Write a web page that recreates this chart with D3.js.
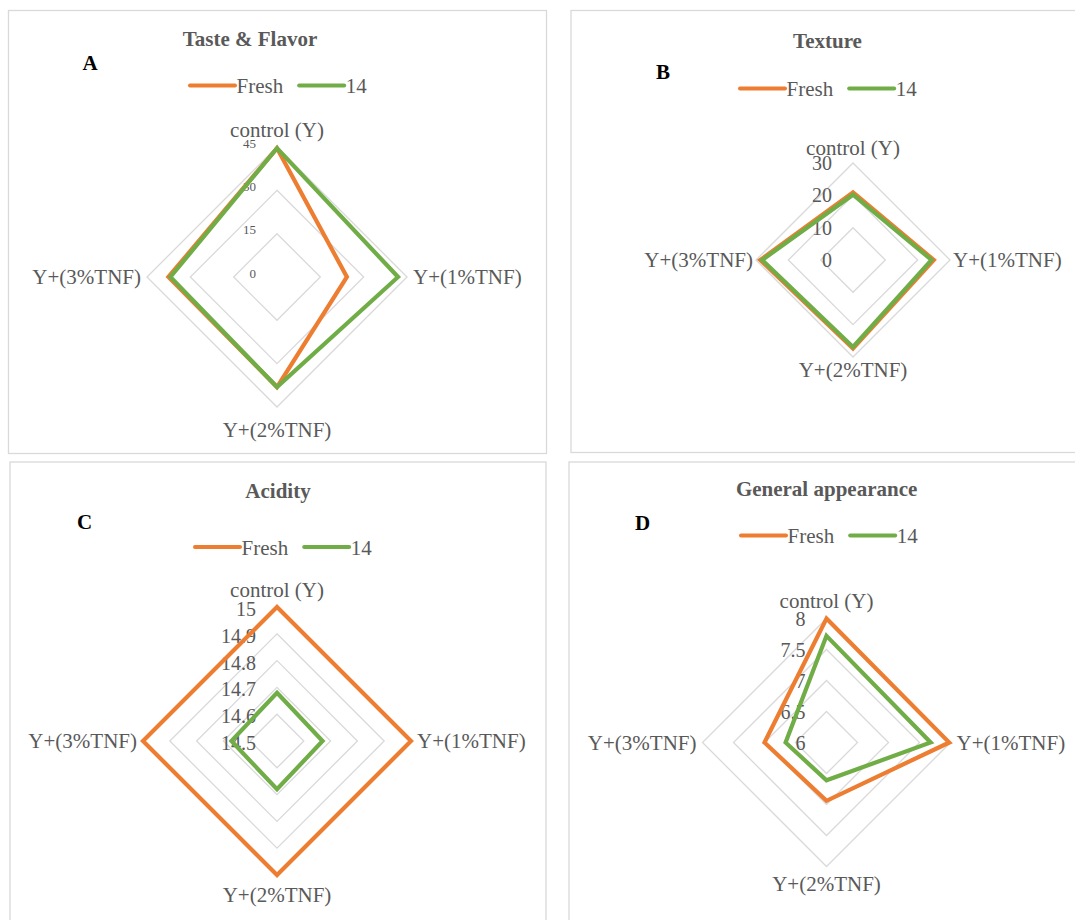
<!DOCTYPE html>
<html>
<head>
<meta charset="utf-8">
<script src="https://cdn.jsdelivr.net/npm/d3@7"></script>
<style>
  html, body { margin: 0; padding: 0; background: #fff; }
  svg { display: block; }
</style>
</head>
<body>
<svg id="chart" width="1075" height="920"></svg>
<script>
// Sensory attributes of the samples, fresh and after 14 days
const categories = ["control (Y)", "Y+(1%TNF)", "Y+(2%TNF)", "Y+(3%TNF)"];
const seriesNames = ["Fresh", "14"];

const tasteFresh = [44.6, 24.2, 38.1, 37.6];
const taste14    = [44.6, 41.9, 38.1, 36.9];
const tasteTicks = [0, 15, 30, 45];

const textureFresh = [20.9, 25.0, 27.4, 28.7];
const texture14    = [20.2, 24.3, 26.9, 28.1];
const textureTicks = [0, 10, 20, 30];

const acidityFresh = [15, 15, 15, 15];
const acidity14    = [14.68, 14.67, 14.68, 14.67];
const acidityTicks = [14.5, 14.6, 14.7, 14.8, 14.9, 15];

const appearanceFresh = [8.0, 7.98, 6.94, 7.0];
const appearance14    = [7.72, 7.68, 6.61, 6.66];
const appearanceTicks = [6, 6.5, 7, 7.5, 8];

const colors = ["#ED7D31", "#70AD47"];
const textGray = "#595959";
const gridGray = "#D9D9D9";
const serif = "'Liberation Serif', 'Times New Roman', Times, serif";

// Panel layout: frame, radar centre/radius, heading and legend placement
const panels = [
  { title: "Taste & Flavor", letter: "A", series: [tasteFresh, taste14], ticks: tasteTicks,
    frame: [8.5, 10.5, 538, 443], cx: 277, cy: 277, R: 130, tickSize: 13, tickDy: -4,
    titleX: 250, titleY: 46, letterX: 82.5, letterY: 70, legendX: 190, legendY: 85.5,
    pad: { top: 10, side: 6, bottom: 30 } },
  { title: "Texture", letter: "B", series: [textureFresh, texture14], ticks: textureTicks,
    frame: [571, 10.5, 620, 442], cx: 853, cy: 260, R: 97, tickSize: 20, tickDy: 0,
    titleX: 827.5, titleY: 48, letterX: 656, letterY: 79, legendX: 740, legendY: 88.5,
    pad: { top: 8, side: 3, bottom: 20 } },
  { title: "Acidity", letter: "C", series: [acidityFresh, acidity14], ticks: acidityTicks,
    frame: [10, 462, 536, 500], cx: 277, cy: 741, R: 134, tickSize: 20, tickDy: 2,
    titleX: 278, titleY: 498, letterX: 77, letterY: 529, legendX: 195, legendY: 547,
    pad: { top: 10, side: 6, bottom: 27 } },
  { title: "General appearance", letter: "D", series: [appearanceFresh, appearance14], ticks: appearanceTicks,
    frame: [569, 462, 620, 500], cx: 826.5, cy: 742.5, R: 124, tickSize: 20, tickDy: 0,
    titleX: 826.6, titleY: 496, letterX: 635, letterY: 530, legendX: 741, legendY: 535.5,
    pad: { top: 11, side: 6, bottom: 24 } }
];

const svg = d3.select("#chart").attr("font-family", serif);
svg.append("rect").attr("width", 1075).attr("height", 920).attr("fill", "#fff");

const angle = d3.scalePoint().domain(d3.range(categories.length)).range([0, 2 * Math.PI * (categories.length - 1) / categories.length]);

panels.forEach(p => {
  const g = svg.append("g");

  g.append("rect")
    .attr("x", p.frame[0]).attr("y", p.frame[1])
    .attr("width", p.frame[2]).attr("height", p.frame[3])
    .attr("fill", "none").attr("stroke", gridGray).attr("stroke-width", 1.3);

  g.append("text")
    .attr("x", p.titleX).attr("y", p.titleY)
    .attr("text-anchor", "middle")
    .attr("font-size", 21).attr("font-weight", "bold")
    .attr("fill", textGray)
    .text(p.title);

  g.append("text")
    .attr("x", p.letterX).attr("y", p.letterY)
    .attr("font-size", 21).attr("font-weight", "bold")
    .attr("fill", "#000")
    .text(p.letter);

  // legend
  const leg = g.append("g").attr("transform", `translate(${p.legendX},${p.legendY})`);
  let lx = 0;
  seriesNames.forEach((name, i) => {
    leg.append("line")
      .attr("x1", lx).attr("x2", lx + 45).attr("y1", 0).attr("y2", 0)
      .attr("stroke", colors[i]).attr("stroke-width", 4).attr("stroke-linecap", "round");
    const t = leg.append("text")
      .attr("x", lx + 46.5).attr("y", 7.5)
      .attr("font-size", 21).attr("fill", textGray)
      .text(name);
    lx += 46.5 + t.node().getComputedTextLength() + 16;
  });

  const r = d3.scaleLinear().domain([p.ticks[0], p.ticks[p.ticks.length - 1]]).range([0, p.R]);
  const radar = g.append("g").attr("transform", `translate(${p.cx},${p.cy})`);

  const ring = d3.lineRadial().curve(d3.curveLinearClosed);

  // grid rings
  p.ticks.slice(1).forEach(v => {
    radar.append("path")
      .attr("d", ring(categories.map((c, i) => [angle(i), r(v)])))
      .attr("fill", "none").attr("stroke", gridGray).attr("stroke-width", 1.3);
  });

  // tick labels on the vertical axis
  radar.selectAll("text.tick").data(p.ticks).join("text")
    .attr("class", "tick")
    .attr("x", -21)
    .attr("y", d => -r(d) + p.tickDy)
    .attr("dy", "0.35em")
    .attr("text-anchor", "end")
    .attr("font-size", p.tickSize)
    .attr("fill", textGray)
    .text(d => d);

  // series outlines
  p.series.forEach((vals, si) => {
    radar.append("path")
      .attr("d", ring(vals.map((v, i) => [angle(i), r(v)])))
      .attr("fill", "none")
      .attr("stroke", colors[si])
      .attr("stroke-width", 4.2)
      .attr("stroke-linejoin", "miter");
  });

  // category labels
  categories.forEach((c, i) => {
    const t = radar.append("text")
      .attr("font-size", 21).attr("fill", textGray).text(c);
    if (i === 0) t.attr("x", 0).attr("y", -(p.R + p.pad.top)).attr("text-anchor", "middle");
    else if (i === 1) t.attr("x", p.R + p.pad.side).attr("y", 7).attr("text-anchor", "start");
    else if (i === 2) t.attr("x", 0).attr("y", p.R + p.pad.bottom).attr("text-anchor", "middle");
    else t.attr("x", -(p.R + p.pad.side)).attr("y", 7).attr("text-anchor", "end");
  });
});
</script>
</body>
</html>
